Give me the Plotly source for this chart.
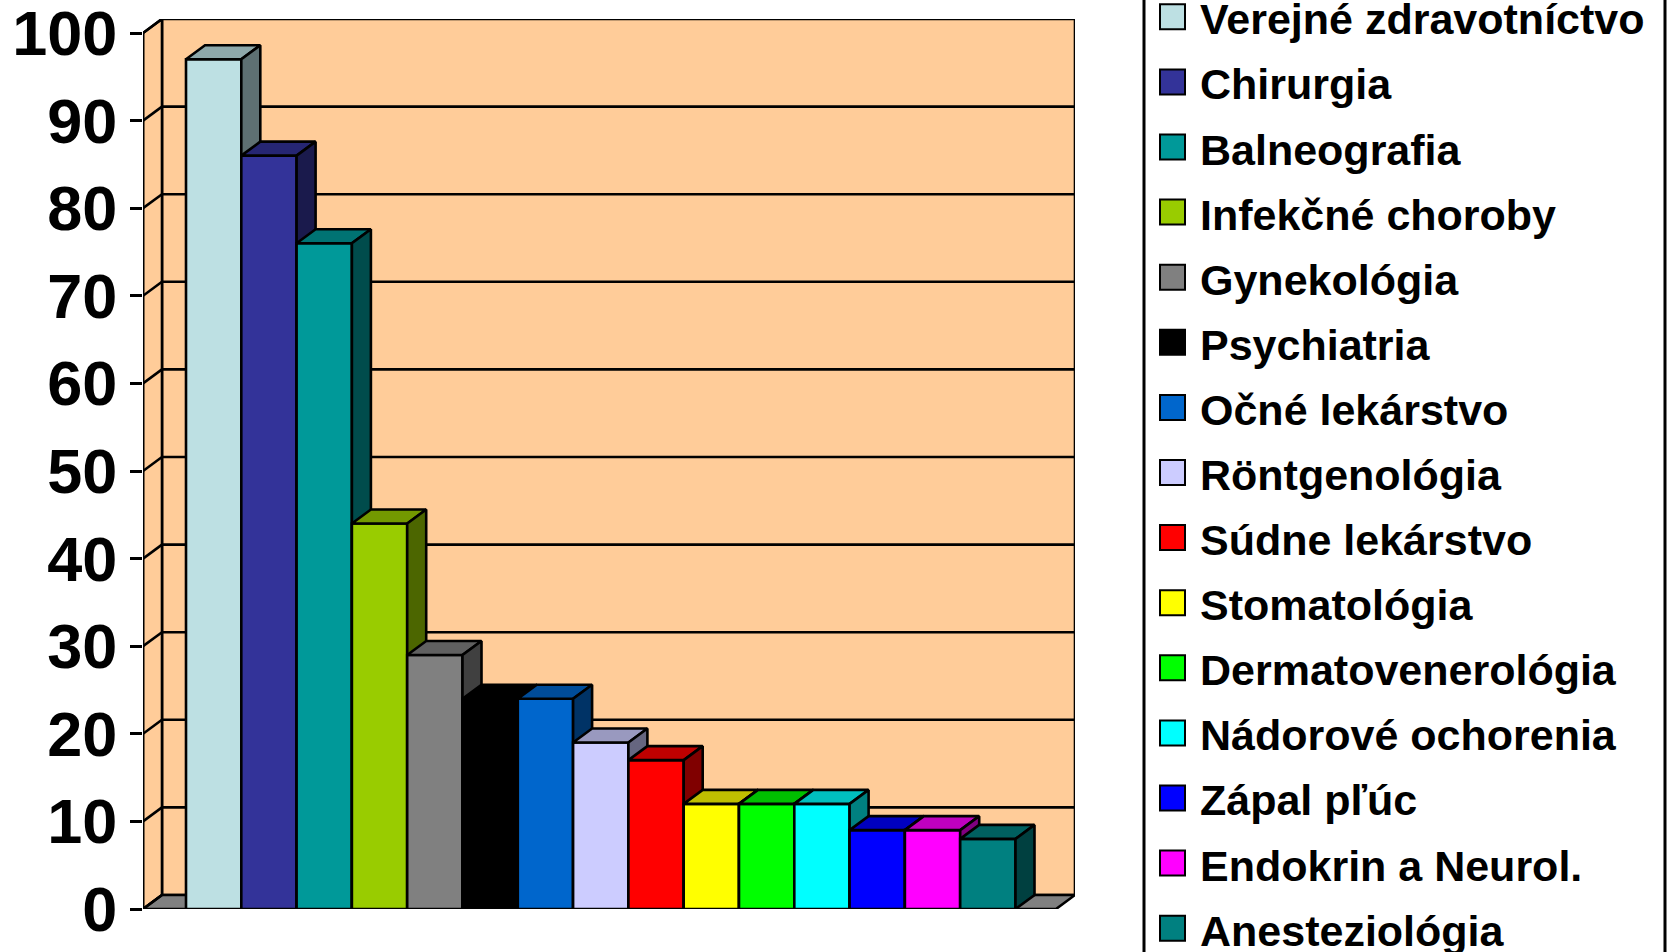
import plotly.graph_objects as go

# ---- data ----
categories = ["Verejné zdravotníctvo", "Chirurgia", "Balneografia", "Infekčné choroby",
              "Gynekológia", "Psychiatria", "Očné lekárstvo", "Röntgenológia",
              "Súdne lekárstvo", "Stomatológia", "Dermatovenerológia", "Nádorové ochorenia",
              "Zápal pľúc", "Endokrin a Neurol.", "Anesteziológia"]
values = [97, 86, 76, 44, 29, 24, 24, 19, 17, 12, 12, 12, 9, 9, 8]
colors = ["#BDE0E3", "#333399", "#009999", "#99CC00", "#808080", "#000000", "#0066CC",
          "#CCCCFF", "#FF0000", "#FFFF00", "#00FF00", "#00FFFF", "#0000FF", "#FF00FF", "#008080"]
y_ticks = [0, 10, 20, 30, 40, 50, 60, 70, 80, 90, 100]

# ---- geometry (pseudo 3-D) ----
W, H = 1670, 952
L_PX, R_PX, T_PX, B_PX = 143, 1075, 19, 909       # plot area in pixels
PX_X = 55.3                                        # pixels per bar
PX_Y = (B_PX - T_PX) / 101.6                        # pixels per value unit
DX = 19.0 / PX_X                                   # depth offset in x units
DY = 14.0 / PX_Y                                   # depth offset in y units
XMIN = -0.5 - 43.0 / PX_X
XMAX = XMIN + (R_PX - L_PX) / PX_X
XFR = XMAX - DX                                    # front right of floor
YMAX = 100 + DY
LW = 2.6
WALL = "#FFCC99"
FONT = "Liberation Sans, Arial"


def shade(hexc, f):
    h = hexc.lstrip("#")
    r, g, b = (int(h[k:k + 2], 16) for k in (0, 2, 4))
    return "rgb(%d,%d,%d)" % (round(r * f), round(g * f), round(b * f))


fig = go.Figure()

for i, (name, v, c) in enumerate(zip(categories, values, colors)):
    x0, x1 = i - 0.5, i + 0.5
    faces = [
        ([x0, x1, x1, x0, x0], [0, 0, v, v, 0], c),
        ([x0, x1, x1 + DX, x0 + DX, x0], [v, v, v + DY, v + DY, v], shade(c, 0.75)),
        ([x1, x1 + DX, x1 + DX, x1, x1], [0, DY, v + DY, v, 0], shade(c, 0.5)),
    ]
    for fx, fy, fc in faces:
        fig.add_trace(go.Scatter(x=fx, y=fy, mode="lines", fill="toself", fillcolor=fc,
                                 line=dict(color="black", width=LW), name=name,
                                 showlegend=False, hoverinfo="skip"))

shapes = []
# back wall
shapes.append(dict(type="rect", xref="x", yref="y", x0=XMIN + DX, x1=XMAX, y0=DY, y1=YMAX,
                   fillcolor=WALL, line=dict(color="black", width=LW), layer="below"))
# left side wall
shapes.append(dict(type="path", xref="x", yref="y",
                   path=f"M{XMIN},0 L{XMIN + DX},{DY} L{XMIN + DX},{YMAX} L{XMIN},100 Z",
                   fillcolor=WALL, line=dict(color="black", width=LW), layer="below"))
# floor
shapes.append(dict(type="path", xref="x", yref="y",
                   path=f"M{XMIN},0 L{XFR},0 L{XMAX},{DY} L{XMIN + DX},{DY} Z",
                   fillcolor="#808080", line=dict(color="black", width=LW), layer="below"))
# gridlines
for t in y_ticks[1:-1]:
    shapes.append(dict(type="line", xref="x", yref="y", x0=XMIN + DX, x1=XMAX, y0=t + DY, y1=t + DY,
                       line=dict(color="black", width=LW), layer="below"))
for t in y_ticks:
    shapes.append(dict(type="line", xref="x", yref="y", x0=XMIN, x1=XMIN + DX, y0=t, y1=t + DY,
                       line=dict(color="black", width=LW), layer="below"))
# front axis line
shapes.append(dict(type="line", xref="x", yref="y", x0=XMIN, x1=XMIN, y0=0, y1=100,
                   line=dict(color="black", width=LW), layer="below"))

# ---- legend (drawn manually; taller than the canvas) ----
def px_x(p):
    return (p - L_PX) / (R_PX - L_PX)


def px_y(p):
    return (B_PX - p) / (B_PX - T_PX)


shapes.append(dict(type="rect", xref="paper", yref="paper", x0=px_x(1144), x1=px_x(1665),
                   y0=px_y(975), y1=px_y(-20), line=dict(color="black", width=3),
                   fillcolor="white", layer="above"))
annotations = []
ROW0, ROWH = 16.8, 65.1
for i, (name, c) in enumerate(zip(categories, colors)):
    cy = ROW0 + ROWH * i
    shapes.append(dict(type="rect", xref="paper", yref="paper", x0=px_x(1160), x1=px_x(1185),
                       y0=px_y(cy + 12.5), y1=px_y(cy - 12.5), fillcolor=c,
                       line=dict(color="black", width=2), layer="above"))
    annotations.append(dict(xref="paper", yref="paper", x=px_x(1198), y=px_y(cy + 2.5),
                            xanchor="left", yanchor="middle", showarrow=False, text=name,
                            font=dict(family=FONT, size=43, color="black", weight="bold")))

fig.update_layout(
    width=W, height=H,
    margin=dict(l=L_PX, r=W - R_PX, t=T_PX, b=H - B_PX, pad=0, autoexpand=False),
    paper_bgcolor="white", plot_bgcolor="white",
    showlegend=False,
    shapes=shapes, annotations=annotations,
    xaxis=dict(range=[XMIN, XMAX], visible=False, fixedrange=True, automargin=False),
    yaxis=dict(range=[0, YMAX], tickvals=y_ticks, ticks="outside", ticklen=12, tickwidth=3,
               tickcolor="black", showgrid=False, zeroline=False, showline=False,
               ticklabeloverflow="allow", automargin=False, fixedrange=True,
               tickfont=dict(family=FONT, size=63, color="black", weight="bold"),
               ticklabelstandoff=0),
)

fig.write_html("out.html", config={"displayModeBar": False},
               post_script="document.body.style.margin='0';document.body.style.overflow='hidden';")
